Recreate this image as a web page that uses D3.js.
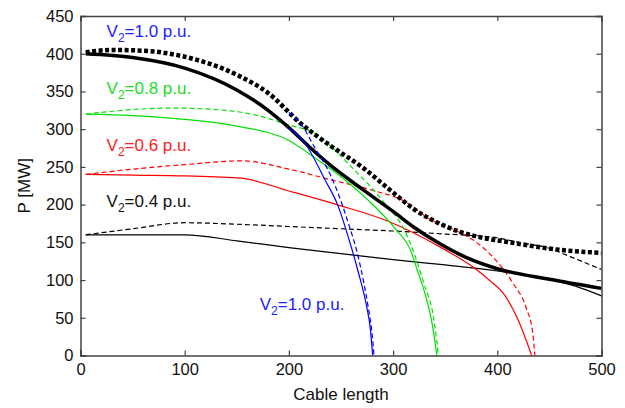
<!DOCTYPE html>
<html>
<head>
<meta charset="utf-8">
<script src="https://cdn.jsdelivr.net/npm/d3@7"></script>
<style>
  body { margin: 0; background: #fff; }
  svg { font-family: Arial, "Liberation Sans", sans-serif; }
</style>
</head>
<body>
<script>
// Données : [longueur de câble, P (MW)]
const envSolid = [[5,400],[50,395],[100,381],[150,352],[180,325],[200,302],[220,276],[240,252],[260,231],[280,211],[300,191],[320,170],[345,148],[370,130],[400,115],[450,101],[500,89]];
const envDash = [[5,402],[30,405],[60,404],[100,396],[150,372],[180,348],[211,308],[240,278],[270,250],[300,216],[320,194],[340,178],[364,164],[386,156],[412,150],[460,140],[500,136]];

const v10Solid = [[200,302],[215,282],[235,232],[247,199],[257,157],[266.5,111],[274.6,65],[278,37],[280.4,0]];
const v10Dash = [[200,322],[211,308],[225,275],[241,236],[255.5,182],[268,122],[276,65],[279.5,33],[281.7,0]];

const v08Solid = [[5,320],[50,318],[100,313],[150,304],[200,285],[225,262],[250,237],[276,206],[303.4,166],[316,142],[324,110],[330,85],[338,38],[342,0]];
const v08Dash = [[5,320],[50,326],[90,328],[130,326],[160,321],[207,303],[220,298],[242,275],[260,250],[290,205],[313,160],[329,98],[340,40],[343.5,0]];

const v06Solid = [[5,240],[50,239],[100,238],[154,235],[200,218],[246,200],[297,177],[316,165],[350,140],[377,117],[393,99],[407,80],[420,47],[433,0]];
const v06Dash = [[5,240],[50,247],[100,253],[155,258],[200,247],[240,233],[280,219],[310,205],[335,181],[364,163],[380,150],[400,124],[415,96],[428,62],[434,30],[436,0]];

const v04Solid = [[5,160],[100,160],[150,152],[200,143],[250,135],[300,127],[350,120],[400,112],[450,101],[475,92],[500,79]];
const v04Dash = [[5,160],[50,168],[100,176],[150,174],[200,171],[250,168],[300,165],[350,161],[400,156],[420,150],[450,142],[470,131],[500,114]];

const xTicks = [0, 100, 200, 300, 400, 500];
const yTicks = [0, 50, 100, 150, 200, 250, 300, 350, 400, 450];

// Étiquettes : texte, position (unités des axes), couleur
const labels = [
  { v: "1.0", x: 25, y: 422, color: "#2222ff" },
  { v: "0.8", x: 25, y: 346.5, color: "#22dd22" },
  { v: "0.6", x: 25, y: 271, color: "#ff2020" },
  { v: "0.4", x: 25, y: 197, color: "#111" },
  { v: "1.0", x: 172, y: 60, color: "#2222ff" }
];

const width = 625, height = 408;
const svg = d3.select("body").append("svg")
  .attr("width", width)
  .attr("height", height);

const x = d3.scaleLinear().domain([0, 500]).range([80.5, 601.5]);
const y = d3.scaleLinear().domain([0, 450]).range([355.5, 16]);

const line = d3.line()
  .x(d => x(d[0]))
  .y(d => y(d[1]))
  .curve(d3.curveMonotoneX);

const series = [
  { data: v04Solid, color: "#000", w: 1.2, dash: null },
  { data: v04Dash, color: "#000", w: 1.2, dash: "5,3" },
  { data: v06Solid, color: "#ff0000", w: 1.2, dash: null },
  { data: v06Dash, color: "#ff0000", w: 1.2, dash: "5,3" },
  { data: v08Solid, color: "#00e000", w: 1.2, dash: null },
  { data: v08Dash, color: "#00e000", w: 1.2, dash: "5,3" },
  { data: envSolid, color: "#000", w: 3.5, dash: null },
  { data: envDash, color: "#000", w: 4.5, dash: "4,2.5" },
  { data: v10Solid, color: "#0000ff", w: 1.2, dash: null },
  { data: v10Dash, color: "#0000ff", w: 1.2, dash: "5,3" }
];

const g = svg.append("g");

g.selectAll(".serie")
  .data(series)
  .join("path")
  .attr("class", "serie")
  .attr("d", d => line(d.data))
  .attr("fill", "none")
  .attr("stroke", d => d.color)
  .attr("stroke-width", d => d.w)
  .attr("stroke-dasharray", d => d.dash);

// Cadre et graduations (vers l'intérieur)
const axisColor = "#444";
const fontSize = 16.5;

const xBottom = d3.axisBottom(x).tickValues(xTicks).tickSize(-5).tickPadding(8);
const xTop = d3.axisTop(x).tickValues(xTicks).tickSize(-5).tickFormat("");
const yLeft = d3.axisLeft(y).tickValues(yTicks).tickSize(-5).tickPadding(7);
const yRight = d3.axisRight(y).tickValues(yTicks).tickSize(-5).tickFormat("");

function styleAxis(sel) {
  sel.selectAll("path").attr("stroke", axisColor).attr("stroke-width", 1.5);
  sel.selectAll("line").attr("stroke", axisColor).attr("stroke-width", 1.2);
  sel.selectAll("text").attr("fill", "#111").style("font-size", fontSize + "px")
     .style("font-family", "Arial, 'Liberation Sans', sans-serif");
}

svg.append("g").attr("transform", `translate(0,${y(0)})`).call(xBottom).call(styleAxis);
svg.append("g").attr("transform", `translate(0,${y(450)})`).call(xTop).call(styleAxis);
svg.append("g").attr("transform", `translate(${x(0)},0)`).call(yLeft).call(styleAxis);
svg.append("g").attr("transform", `translate(${x(500)},0)`).call(yRight).call(styleAxis);

svg.selectAll(".domain").attr("stroke-linecap", "square");

// Titres des axes
svg.append("text")
  .attr("x", (x(0) + x(500)) / 2)
  .attr("y", 400)
  .attr("text-anchor", "middle")
  .attr("fill", "#111")
  .style("font-size", "17px")
  .text("Cable length");

svg.append("text")
  .attr("transform", `translate(30,${(y(0) + y(450)) / 2}) rotate(-90)`)
  .attr("text-anchor", "middle")
  .attr("fill", "#111")
  .style("font-size", "17px")
  .text("P [MW]");

// Annotations V2
const lab = svg.selectAll(".lab")
  .data(labels)
  .join("text")
  .attr("class", "lab")
  .attr("x", d => x(d.x))
  .attr("y", d => y(d.y))
  .attr("fill", d => d.color)
  .style("font-size", "17px");

lab.append("tspan").text("V");
lab.append("tspan").attr("dy", 5).style("font-size", "12px").text("2");
lab.append("tspan").attr("dy", -5).text(d => "=" + d.v + " p.u.");
</script>
</body>
</html>
